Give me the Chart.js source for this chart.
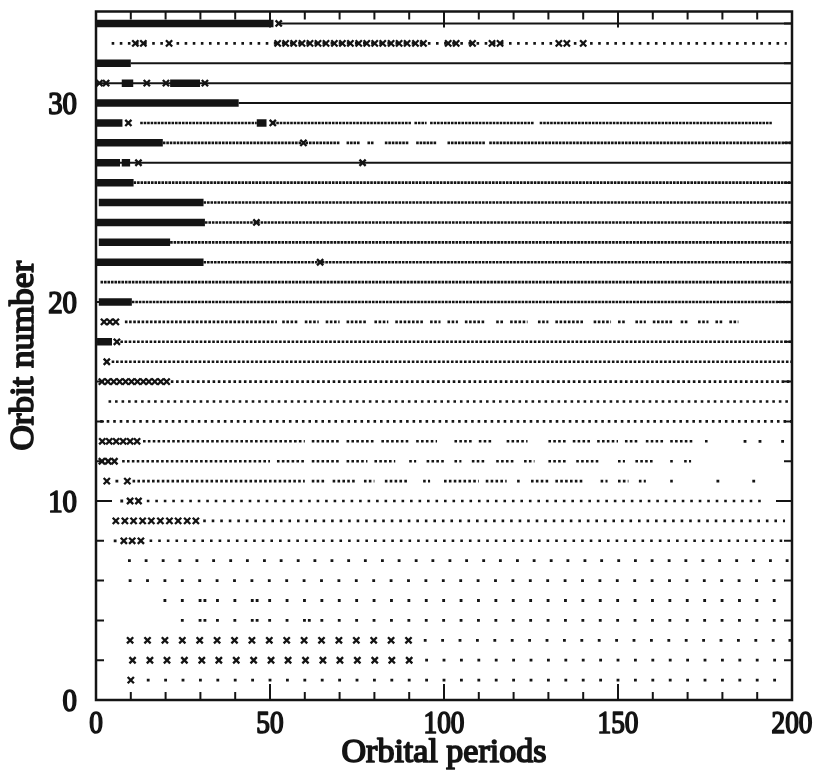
<!DOCTYPE html>
<html>
<head>
<meta charset="utf-8">
<script src="https://cdn.jsdelivr.net/npm/chart.js@4.4.0/dist/chart.umd.min.js"></script>
<style>
  html, body { margin: 0; padding: 0; background: #fff; }
</style>
</head>
<body>
<canvas id="orbitChart" width="819" height="775"></canvas>
<script>
// axis ticks
const xTicks = [0, 10, 20, 30, 40, 50, 60, 70, 80, 90, 100, 110, 120, 130, 140, 150, 160, 170, 180, 190, 200];
const yTicks = [0, 2, 4, 6, 8, 10, 12, 14, 16, 18, 20, 22, 24, 26, 28, 30, 32, 34];
const xLabels = [0, 50, 100, 150, 200];
const yLabels = [0, 10, 20, 30];

// heavy runs of overlapping crosses: [orbit, from, to]
const denseRuns = [
    [34, 0, 51], [32, 0, 10], [31, 7.4, 10.7], [31, 21.3, 29.9], [30, 0, 41],
    [29, 0, 7.6], [29, 46.2, 49], [28, 0, 19.2], [27, 0, 6.9], [27, 7.4, 9.8],
    [26, 0.3, 10.8], [25, 0.8, 30.9], [24, 0, 31.3], [23, 0.8, 21.3], [22, 0, 30.9],
    [20, 0.8, 10.3], [18, 0.3, 4.6]
];

// orbits where the points merge into a continuous line: [orbit, from, to]
const solidRuns = [
    [34, 52, 200], [32, 10, 200], [31, 0, 200], [30, 41, 200], [27, 6.9, 200]
];

// point spacing (orbital periods) of the dotted orbits
const dotStep = {
    8: 2.48, 9: 2.45, 10: 2.44, 11: 1.4, 12: 1.4, 13: 1.4, 14: 1.87, 15: 1.87,
    16: 1.5, 17: 1.25, 18: 1.2, 19: 1.2, 20: 1, 21: 1, 22: 1, 23: 1, 24: 1,
    25: 1, 26: 1, 28: 1, 29: 1, 33: 2.33
};

// dotted runs: [orbit, from, to]
const dotRuns = [
    [33, 4.5, 198.5],
    [29, 12.7, 46.2], [29, 50.8, 90.5], [29, 91.5, 95], [29, 96, 126], [29, 127.5, 194.2],
    [28, 19.2, 70], [28, 72, 76], [28, 78, 80], [28, 83, 90], [28, 92, 98], [28, 101, 112], [28, 113, 200],
    [26, 10.8, 200], [25, 30.9, 200], [24, 31.3, 200], [23, 21.3, 200], [22, 30.9, 200],
    [21, 1.3, 200], [20, 10.3, 200],
    [19, 8.3, 52], [19, 53.5, 58], [19, 60, 64], [19, 66, 70], [19, 72, 78], [19, 80, 84],
    [19, 86, 94], [19, 96, 99], [19, 101, 104], [19, 106, 112], [19, 115, 117], [19, 119, 124],
    [19, 127, 130], [19, 132, 140], [19, 143, 148], [19, 150, 152], [19, 155, 158], [19, 160, 166],
    [19, 168, 170], [19, 173, 176], [19, 178, 180], [19, 182, 184.6],
    [18, 7, 200], [17, 4.5, 200], [16, 21.5, 200], [15, 3.6, 200], [14, 1.2, 200],
    [13, 13.5, 60], [13, 62, 70], [13, 72, 80], [13, 82, 90], [13, 92, 98], [13, 103, 108],
    [13, 110, 114], [13, 118, 124], [13, 130, 135], [13, 137, 142], [13, 144, 150], [13, 152, 156],
    [13, 158, 163], [13, 165, 172], [13, 175, 176],
    [12, 7.5, 50], [12, 52, 60], [12, 62, 70], [12, 72, 78], [12, 80, 86], [12, 90, 92],
    [12, 95, 100], [12, 103, 105], [12, 108, 112], [12, 115, 120], [12, 123, 126], [12, 130, 135],
    [12, 138, 145], [12, 150, 152], [12, 155, 160], [12, 165, 166], [12, 169, 171],
    [11, 10.5, 60], [11, 62, 66], [11, 68, 75], [11, 77, 80], [11, 83, 90], [11, 94, 96],
    [11, 100, 110], [11, 112, 118], [11, 121, 122], [11, 125, 130], [11, 132, 140], [11, 145, 147],
    [11, 150, 153], [11, 156, 158], [11, 165, 166],
    [10, 14.6, 192.5], [9, 30.8, 198], [8, 15.4, 197.5]
];

// single points on the sparse orbits: [orbit, [x...]]
const pointRows = [
    [1, [15, 20, 25, 30, 35, 40, 45, 50, 55, 60, 65, 70, 75, 80, 85, 90, 95, 100, 105, 110, 115, 120, 125,
         130, 135, 140, 145, 150, 155, 160, 165, 170, 175, 180, 185, 190, 195]],
    [2, [95, 100, 105, 110, 115, 120, 125, 130, 135, 140, 145, 150, 155, 160, 165, 170, 175, 180, 185, 190, 195]],
    [3, [94.6, 99.6, 104.6, 109.6, 114.6, 119.6, 124.6, 129.6, 134.6, 139.6, 144.6, 149.6, 154.6, 159.6,
         164.6, 169.6, 174.6, 179.6, 184.6, 189.6, 194.6, 199.4]],
    [4, [24.8, 29.9, 31.3, 34.9, 39.9, 44.9, 46.3, 49.9, 54.9, 59.9, 61.3, 64.9, 69.9, 74.9, 79.9, 84.9,
         89.9, 94.9, 99.9, 104.9, 109.9, 114.9, 119.9, 124.9, 129.9, 134.9, 139.9, 144.9, 149.9, 154.9,
         159.9, 164.9, 169.9, 174.9, 179.9, 184.9, 189.9, 194.9]],
    [5, [19.8, 24.8, 29.9, 31.3, 34.9, 39.9, 44.9, 46.3, 49.9, 54.9, 59.9, 64.9, 69.9, 74.9, 79.9, 84.9,
         89.9, 94.9, 99.9, 104.9, 109.9, 114.9, 119.9, 124.9, 129.9, 134.9, 139.9, 144.9, 149.9, 154.9,
         159.9, 164.9, 169.9, 174.9, 179.9, 184.9, 189.9, 194.9]],
    [6, [9.8, 14.8, 19.8, 24.8, 29.8, 34.8, 39.8, 44.8, 49.8, 54.8, 59.8, 64.8, 69.8, 74.8, 79.8, 84.8,
         89.8, 94.8, 99.8, 104.8, 109.8, 114.8, 119.8, 124.8, 129.8, 134.8, 139.8, 144.8, 149.8, 154.8,
         159.8, 164.8, 169.8, 174.8, 179.8, 184.8, 189.8, 194.8]],
    [7, [9.6, 14.4, 19.3, 24.1, 29.0, 33.8, 38.7, 43.5, 48.4, 53.2, 58.1, 62.9, 67.8, 72.6, 77.4, 82.3,
         87.1, 92.0, 96.8, 101.7, 106.5, 111.4, 116.2, 121.1, 125.9, 130.8, 135.6, 140.5, 145.3, 150.2,
         155.0, 159.8, 164.7, 169.5, 174.4, 179.2, 184.1, 188.9, 193.8, 198.6]],
    [8, [5.5]], [10, [7.4]], [11, [6.0, 178.7, 189]], [13, [186.5, 190.8, 197.3]]
];

// crossed points: [orbit, [x...]]
const crossRows = [
    [34, [52.5]],
    [33, [11.3, 13.6, 21.0, 52.2, 54.5, 56.8, 59.2, 61.5, 63.8, 66.1, 68.5, 70.8, 73.1, 75.5, 77.8, 80.1,
          82.4, 84.8, 87.1, 89.4, 91.8, 94.1, 101.2, 103.5, 108.2, 113.8, 116.1, 133.0, 135.3, 140.0]],
    [31, [1.0, 2.9, 14.6, 20.1, 31.3]],
    [29, [9.3, 50.8]], [28, [59.6]], [27, [12.2, 76.6]], [24, [46.1]], [22, [64.4]],
    [19, [2.3, 4.0, 5.7]], [18, [6.0]], [17, [3.1]],
    [16, [1.7, 3.4, 5.1, 6.8, 8.5, 10.2, 11.9, 13.6, 15.2, 16.9, 18.6, 20.3]],
    [13, [1.8, 3.8, 5.8, 7.8, 9.8, 11.8]], [12, [1.7, 3.5, 5.3]], [11, [3.1, 9.0]], [10, [9.8, 12.2]],
    [9, [5.7, 8.3, 10.8, 13.4, 15.9, 18.5, 21.1, 23.6, 26.2, 28.7]],
    [8, [8.0, 10.4, 12.9]],
    [3, [9.8, 14.8, 19.8, 24.8, 29.8, 34.8, 39.8, 44.8, 49.8, 54.8, 59.8, 64.8, 69.8, 74.8, 79.8, 84.8, 89.8]],
    [2, [10.5, 15.5, 20.4, 25.4, 30.4, 35.3, 40.3, 45.3, 50.3, 55.2, 60.2, 65.2, 70.1, 75.1, 80.1, 85.0, 90.0]],
    [1, [10]]
];

const INK = '#141414';
const DOT = 2.6;
const FONT = '"Liberation Serif", "DejaVu Serif", serif';

function dashFor(chart, step)
{
    const sx = chart.scales.x;
    const period = sx.getPixelForValue(step) - sx.getPixelForValue(0);
    return [DOT, Math.max(period - DOT, 0.4)];
}

function segment(orbit, from, to, width, step)
{
    return {
        type: 'line',
        order: 2,
        data: [{x: from, y: orbit}, {x: to, y: orbit}],
        borderColor: INK,
        borderWidth: width,
        borderCapStyle: 'butt',
        borderDash: step ? (ctx) => dashFor(ctx.chart, step) : [],
        pointRadius: 0,
        tension: 0
    };
}

const datasets = [];

const crossPts = [];
crossRows.forEach(([orbit, xs]) => xs.forEach(x => crossPts.push({x: x, y: orbit})));
datasets.push({
    type: 'scatter',
    order: 0,
    data: crossPts,
    pointStyle: 'crossRot',
    pointRadius: 4.4,
    pointBorderWidth: 2.3,
    borderColor: INK,
    backgroundColor: INK
});

const dotPts = [];
pointRows.forEach(([orbit, xs]) => xs.forEach(x => dotPts.push({x: x, y: orbit})));
datasets.push({
    type: 'scatter',
    order: 1,
    data: dotPts,
    pointStyle: 'rect',
    pointRadius: 2.0,
    pointBorderWidth: 0,
    borderColor: INK,
    backgroundColor: INK
});

denseRuns.forEach(([o, a, b]) => datasets.push(segment(o, a, b, 7.5, 0)));
solidRuns.forEach(([o, a, b]) => datasets.push(segment(o, a, b, 2, 0)));
dotRuns.forEach(([o, a, b]) => datasets.push(segment(o, a, b, DOT, dotStep[o])));

// filled text with an outline so the serif face gets an even, plotter-like stroke
function drawText(ctx, text, x, y, align, squeeze)
{
    ctx.save();
    ctx.translate(x, y);
    ctx.scale(squeeze, 1);
    ctx.textAlign = align;
    ctx.lineWidth = 1.7;
    ctx.lineJoin = 'round';
    ctx.fillText(text, 0, 0);
    ctx.strokeText(text, 0, 0);
    ctx.restore();
}

// frame, inward ticks and labels
const framePlugin = {
    id: 'frame',
    afterDatasetsDraw(chart)
    {
        const ctx = chart.ctx;
        const sx = chart.scales.x;
        const sy = chart.scales.y;
        const a = chart.chartArea;

        ctx.save();
        ctx.strokeStyle = INK;
        ctx.lineWidth = 2;
        ctx.beginPath();
        xTicks.forEach(v => {
            const px = sx.getPixelForValue(v);
            const len = (v % 50 === 0) ? 16 : 8;
            ctx.moveTo(px, a.bottom); ctx.lineTo(px, a.bottom - len);
            ctx.moveTo(px, a.top); ctx.lineTo(px, a.top + len);
        });
        yTicks.forEach(v => {
            const py = sy.getPixelForValue(v);
            const len = (v % 10 === 0) ? 16 : 8;
            ctx.moveTo(a.left, py); ctx.lineTo(a.left + len, py);
            ctx.moveTo(a.right, py); ctx.lineTo(a.right - len, py);
        });
        ctx.stroke();

        ctx.lineWidth = 2.5;
        ctx.strokeRect(a.left, a.top, a.right - a.left, a.bottom - a.top);

        ctx.fillStyle = INK;
        ctx.textBaseline = 'alphabetic';
        ctx.font = '31px ' + FONT;
        xLabels.forEach(v => {
            drawText(ctx, String(v), sx.getPixelForValue(v), a.bottom + 33, 'center', 0.88);
        });
        yLabels.forEach(v => {
            drawText(ctx, String(v), a.left - 19, sy.getPixelForValue(v) + 11, 'right', 0.93);
        });

        ctx.font = '34px ' + FONT;
        drawText(ctx, 'Orbital periods', (a.left + a.right) / 2, a.bottom + 62, 'center', 1);

        ctx.save();
        ctx.translate(33, (a.top + a.bottom) / 2);
        ctx.rotate(-Math.PI / 2);
        drawText(ctx, 'Orbit number', 0, 0, 'center', 1.03);
        ctx.restore();

        ctx.restore();
    }
};

const OrbitChartVar = new Chart(document.getElementById('orbitChart'), {
    type: 'scatter',
    data: { datasets: datasets },
    options: {
        responsive: false,
        animation: false,
        devicePixelRatio: 1,
        layout: { padding: { left: 96, right: 27, top: 11.5, bottom: 75 } },
        scales: {
            x: { type: 'linear', display: false, min: 0, max: 200 },
            y: { type: 'linear', display: false, min: 0, max: 34.6 }
        },
        plugins: {
            legend: { display: false },
            tooltip: { enabled: false }
        }
    },
    plugins: [framePlugin]
});
</script>
</body>
</html>
